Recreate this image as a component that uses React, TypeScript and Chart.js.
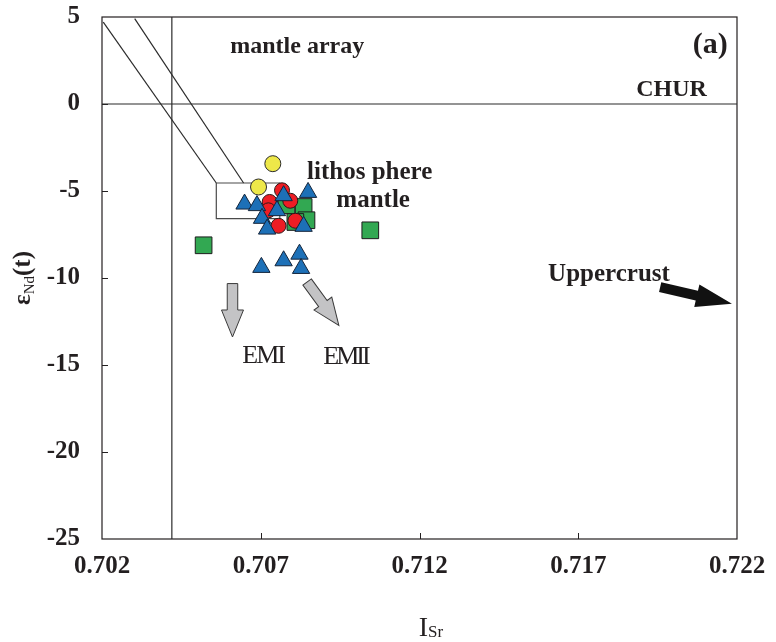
import { useEffect, useRef } from "react";
import { Chart, registerables } from "chart.js";

Chart.register(...registerables);

// Axis ticks
const xTicks = [0.702, 0.707, 0.712, 0.717, 0.722];
const yTicks = [5, 0, -5, -10, -15, -20, -25];

// Sample groups: initial Sr ratio (Isr) and εNd(t)
const yellowIsr = [0.70738, 0.70693];
const yellowEnd = [-3.43, -4.77];

const greenIsr = [0.7052, 0.70835, 0.70844, 0.70809, 0.70781, 0.71045];
const greenEnd = [-8.12, -5.92, -6.68, -6.78, -5.82, -7.26];

const redIsr = [0.70767, 0.70728, 0.70793, 0.70756, 0.70809, 0.70724];
const redEnd = [-4.96, -5.63, -5.56, -7.0, -6.71, -6.11];

const blueIsr = [0.70649, 0.70688, 0.70772, 0.70849, 0.70751, 0.70704, 0.7072, 0.70835, 0.70702, 0.70772, 0.70822, 0.70827];
const blueEnd = [-5.75, -5.84, -5.27, -5.08, -6.13, -6.57, -7.19, -7.03, -9.39, -9.01, -8.63, -9.45];

// Reference lines: CHUR, bulk earth Sr, mantle array band, lithospheric mantle field
const churEnd = 0;
const bulkEarthIsr = 0.7042;
const arrayUpperIsr = [0.70303, 0.70646];
const arrayUpperEnd = [4.91, -4.54];
const arrayLowerIsr = [0.70204, 0.7056];
const arrayLowerEnd = [4.71, -4.54];
const lithoBoxIsr = [0.7056, 0.7076];
const lithoBoxEnd = [-4.54, -6.59];

// Trend arrows: [fromIsr, fromEnd, toIsr, toEnd]
const emiArrow = [0.70611, -10.32, 0.70611, -13.39];
const emiiArrow = [0.70846, -10.23, 0.70946, -12.72];
const crustArrow = [0.71958, -10.53, 0.72184, -11.48];

const SERIF = "'Liberation Serif', 'Times New Roman', serif";
const INK = "#231f20";

const pts = (xs: number[], ys: number[]) => xs.map((x, i) => ({ x, y: ys[i] }));

type Note = { text: string; x: number; y: number; align: CanvasTextAlign; font: string; spacing?: string };
const notes: Note[] = [
  { text: "mantle array", x: 0.70604, y: 3.26, align: "left", font: `bold 24px ${SERIF}` },
  { text: "(a)", x: 0.72171, y: 3.37, align: "right", font: `bold 30px ${SERIF}` },
  { text: "CHUR", x: 0.72105, y: 0.79, align: "right", font: `bold 24px ${SERIF}` },
  { text: "lithos phere", x: 0.71043, y: -3.93, align: "center", font: `bold 25px ${SERIF}` },
  { text: "mantle", x: 0.71054, y: -5.54, align: "center", font: `bold 25px ${SERIF}` },
  { text: "Uppercrust", x: 0.71605, y: -9.79, align: "left", font: `bold 25px ${SERIF}` },
  { text: "EMI", x: 0.70642, y: -14.5, align: "left", font: `26px ${SERIF}`, spacing: "-2px" },
  { text: "EMII", x: 0.70897, y: -14.56, align: "left", font: `26px ${SERIF}`, spacing: "-3px" },
];

function drawArrow(
  ctx: CanvasRenderingContext2D,
  x1: number, y1: number, x2: number, y2: number,
  shaftW: number, headW: number, headL: number,
  fill: string, stroke: string | null
) {
  const ang = Math.atan2(y2 - y1, x2 - x1);
  const len = Math.hypot(x2 - x1, y2 - y1);
  ctx.save();
  ctx.translate(x1, y1);
  ctx.rotate(ang);
  ctx.beginPath();
  ctx.moveTo(0, -shaftW / 2);
  ctx.lineTo(len - headL, -shaftW / 2);
  ctx.lineTo(len - headL, -headW / 2);
  ctx.lineTo(len, 0);
  ctx.lineTo(len - headL, headW / 2);
  ctx.lineTo(len - headL, shaftW / 2);
  ctx.lineTo(0, shaftW / 2);
  ctx.closePath();
  ctx.fillStyle = fill;
  ctx.fill();
  if (stroke) {
    ctx.strokeStyle = stroke;
    ctx.lineWidth = 1;
    ctx.stroke();
  }
  ctx.restore();
}

const framePlugin = {
  id: "frame",
  beforeDatasetsDraw(chart: any) {
    const { ctx, chartArea: a, scales } = chart;
    ctx.save();
    ctx.strokeStyle = INK;
    ctx.lineWidth = 1.2;
    ctx.strokeRect(a.left, a.top, a.right - a.left, a.bottom - a.top);
    // inward tick marks
    ctx.lineWidth = 1;
    ctx.beginPath();
    xTicks.slice(1, -1).forEach((v) => {
      const px = Math.round(scales.x.getPixelForValue(v)) + 0.5;
      ctx.moveTo(px, a.bottom);
      ctx.lineTo(px, a.bottom - 6);
    });
    yTicks.slice(1, -1).forEach((v) => {
      const py = Math.round(scales.y.getPixelForValue(v)) + 0.5;
      ctx.moveTo(a.left, py);
      ctx.lineTo(a.left + 6, py);
    });
    ctx.stroke();
    ctx.restore();
  },
  afterDatasetsDraw(chart: any) {
    const { ctx, scales } = chart;
    const X = (v: number) => scales.x.getPixelForValue(v);
    const Y = (v: number) => scales.y.getPixelForValue(v);
    ctx.save();
    // arrows
    drawArrow(ctx, X(emiArrow[0]), Y(emiArrow[1]), X(emiArrow[2]), Y(emiArrow[3]), 10.5, 22, 27, "#c3c3c5", "#3a3a3a");
    drawArrow(ctx, X(emiiArrow[0]), Y(emiiArrow[1]), X(emiiArrow[2]), Y(emiiArrow[3]), 10.5, 22, 27, "#c3c3c5", "#3a3a3a");
    drawArrow(ctx, X(crustArrow[0]), Y(crustArrow[1]), X(crustArrow[2]), Y(crustArrow[3]), 10, 23, 36, "#111111", null);
    // text notes
    ctx.fillStyle = INK;
    ctx.textBaseline = "middle";
    notes.forEach((n) => {
      ctx.font = n.font;
      (ctx as any).letterSpacing = n.spacing || "0px";
      ctx.textAlign = n.align;
      ctx.fillText(n.text, X(n.x), Y(n.y));
    });
    (ctx as any).letterSpacing = "0px";

    // y-axis title: εNd(t)
    ctx.save();
    ctx.translate(22, 278);
    ctx.rotate(-Math.PI / 2);
    ctx.textAlign = "left";
    ctx.textBaseline = "alphabetic";
    const big = `bold 25px ${SERIF}`;
    const sub = `15px ${SERIF}`;
    ctx.font = big;
    const wE = ctx.measureText("ε").width;
    const wT = ctx.measureText("(t)").width;
    ctx.font = sub;
    const wN = ctx.measureText("Nd").width;
    let cx = -(wE + wN + wT) / 2;
    ctx.font = big;
    ctx.fillText("ε", cx, 8);
    cx += wE;
    ctx.font = sub;
    ctx.fillText("Nd", cx, 12);
    cx += wN;
    ctx.font = big;
    ctx.fillText("(t)", cx, 8);
    ctx.restore();

    // x-axis title: ISr
    ctx.textAlign = "left";
    ctx.textBaseline = "alphabetic";
    ctx.font = `28px ${SERIF}`;
    const wI = ctx.measureText("I").width;
    ctx.font = `17px ${SERIF}`;
    const wS = ctx.measureText("Sr").width;
    const x0 = 431 - (wI + wS) / 2;
    ctx.font = `28px ${SERIF}`;
    ctx.fillText("I", x0, 636);
    ctx.font = `17px ${SERIF}`;
    ctx.fillText("Sr", x0 + wI, 637);
    ctx.restore();
  },
};

const noPad = (axis: any) => {
  axis.paddingTop = 0;
  axis.paddingBottom = 0;
  axis.paddingLeft = 0;
  axis.paddingRight = 0;
};

export default function App() {
  const ref = useRef<HTMLCanvasElement | null>(null);

  useEffect(() => {
    if (!ref.current) return;
    const lineDs = (data: { x: number; y: number }[]) => ({
      data,
      showLine: true,
      borderColor: "#2b2b2b",
      borderWidth: 1.2,
      pointRadius: 0,
      fill: false,
      order: 10,
    });
    const chart = new Chart(ref.current, {
      type: "scatter",
      data: {
        datasets: [
          lineDs([{ x: xTicks[0], y: churEnd }, { x: xTicks[xTicks.length - 1], y: churEnd }]),
          lineDs([{ x: bulkEarthIsr, y: yTicks[yTicks.length - 1] }, { x: bulkEarthIsr, y: yTicks[0] }]),
          lineDs(pts(arrayUpperIsr, arrayUpperEnd)),
          lineDs(pts(arrayLowerIsr, arrayLowerEnd)),
          {
            ...lineDs([
              { x: lithoBoxIsr[0], y: lithoBoxEnd[0] },
              { x: lithoBoxIsr[1], y: lithoBoxEnd[0] },
              { x: lithoBoxIsr[1], y: lithoBoxEnd[1] },
              { x: lithoBoxIsr[0], y: lithoBoxEnd[1] },
              { x: lithoBoxIsr[0], y: lithoBoxEnd[0] },
            ]),
            borderColor: "#4a4a4a",
          },
          {
            data: pts(greenIsr, greenEnd),
            pointStyle: "rect",
            pointRadius: 11.8,
            backgroundColor: "#32a852",
            borderColor: "#1d1d1d",
            borderWidth: 1,
            order: 4,
          },
          {
            data: pts(redIsr, redEnd),
            pointStyle: "circle",
            pointRadius: 7.5,
            backgroundColor: "#ee1d24",
            borderColor: "#2a1a1a",
            borderWidth: 1,
            order: 3,
          },
          {
            data: pts(blueIsr, blueEnd),
            pointStyle: "triangle",
            pointRadius: 10,
            backgroundColor: "#1d70b7",
            borderColor: "#14243a",
            borderWidth: 1,
            order: 2,
          },
          {
            data: pts(yellowIsr, yellowEnd),
            pointStyle: "circle",
            pointRadius: 8,
            backgroundColor: "#eee849",
            borderColor: "#2b2b2b",
            borderWidth: 1,
            order: 1,
          },
        ],
      },
      options: {
        animation: false,
        responsive: true,
        maintainAspectRatio: false,
        layout: { padding: { left: 0, top: 17, right: 39, bottom: 0 } },
        plugins: { legend: { display: false }, tooltip: { enabled: false } },
        scales: {
          x: {
            type: "linear",
            min: xTicks[0],
            max: xTicks[xTicks.length - 1],
            afterBuildTicks: (axis: any) => {
              axis.ticks = xTicks.map((v) => ({ value: v }));
            },
            afterFit: (axis: any) => {
              axis.height = 103;
              noPad(axis);
            },
            grid: { display: false, drawTicks: false },
            border: { display: false },
            ticks: {
              padding: 13,
              color: INK,
              font: { family: SERIF, weight: "bold", size: 25 },
              maxRotation: 0,
              callback: (v: any) => Number(v).toFixed(3),
            },
          },
          y: {
            type: "linear",
            min: yTicks[yTicks.length - 1],
            max: yTicks[0],
            afterBuildTicks: (axis: any) => {
              axis.ticks = yTicks.map((v) => ({ value: v }));
            },
            afterFit: (axis: any) => {
              axis.width = 102;
              noPad(axis);
            },
            grid: { display: false, drawTicks: false },
            border: { display: false },
            ticks: {
              padding: 22,
              color: INK,
              font: { family: SERIF, weight: "bold", size: 25 },
              callback: (v: any) => String(v),
            },
          },
        },
      },
      plugins: [framePlugin],
    });
    return () => chart.destroy();
  }, []);

  return (
    <div style={{ position: "absolute", left: 0, top: 0, width: 776, height: 642, background: "#fff" }}>
      <canvas ref={ref} />
    </div>
  );
}
